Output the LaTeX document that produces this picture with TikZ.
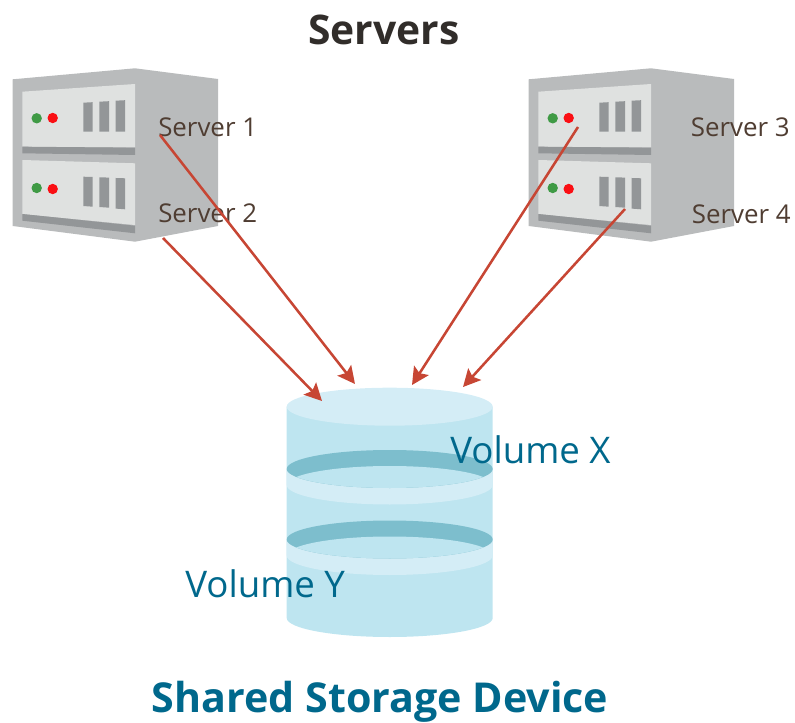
\documentclass[tikz,border=0pt]{standalone}
\usepackage{fontspec}
\setmainfont{Open Sans}
\usetikzlibrary{arrows.meta}
\definecolor{caseGrey}{HTML}{B9BBBC}
\definecolor{panelGrey}{HTML}{DFE1E0}
\definecolor{slotGrey}{HTML}{939698}
\definecolor{ledGreen}{HTML}{3F9A45}
\definecolor{ledRed}{HTML}{FA0F14}
\definecolor{diskBody}{HTML}{BEE5F0}
\definecolor{diskLight}{HTML}{D4EDF6}
\definecolor{diskDark}{HTML}{7DBECD}
\definecolor{linkRed}{HTML}{C74634}
\definecolor{volBlue}{HTML}{00688C}
\definecolor{srvBrown}{HTML}{4F3D32}
\definecolor{titleDark}{HTML}{312D2A}
\tikzset{
  srvlabel/.style={text=srvBrown,font=\fontsize{19.4}{23}\selectfont,inner sep=0pt},
  vollabel/.style={text=volBlue,font=\fontsize{27.5}{34}\selectfont,inner sep=0pt},
  link/.style={linkRed,line width=1.9pt,-{Stealth[length=13pt,width=13pt,inset=2.5pt]}}
}
\begin{document}
\begin{tikzpicture}[x=0.75pt,y=-0.75pt]
  \useasboundingbox (0,0) rectangle (795,723);

  % the two server boxes
  \foreach \xs in {0,516} {
    \begin{scope}[xshift=\xs*0.75pt]
      \fill[caseGrey] (12.7,79.3) -- (135,68.3) -- (218,79) -- (218,226) -- (135,241.7) -- (12.7,226) -- cycle;
      \fill[panelGrey] (22.3,91.7) -- (135,84) -- (135,147.3) -- (22.3,146.7) -- cycle;
      \fill[slotGrey] (22.3,146.7) -- (135,147.7) -- (135,155) -- (22.3,153.3) -- cycle;
      \fill[panelGrey] (22.3,160) -- (135,163.3) -- (135,225) -- (22.3,214) -- cycle;
      \fill[slotGrey] (22.3,214) -- (135,225.7) -- (135,233.3) -- (22.3,220.7) -- cycle;
      \fill[ledGreen] (36.7,118.3) circle (5.2);
      \fill[ledRed] (52.7,118) circle (5.2);
      \fill[ledGreen] (36.7,188) circle (5.2);
      \fill[ledRed] (52.7,189) circle (5.2);
      \fill[slotGrey] (83.3,102.7) -- (92.7,102.2) -- (92.7,131.7) -- (83.3,131.7) -- cycle;
      \fill[slotGrey] (99.3,101.7) -- (109,101.2) -- (109,131.7) -- (99.3,131.7) -- cycle;
      \fill[slotGrey] (115.7,100.7) -- (125,100.2) -- (125,131.7) -- (115.7,131.7) -- cycle;
      \fill[slotGrey] (83.3,176.7) -- (92.7,177) -- (92.7,206.7) -- (83.3,206) -- cycle;
      \fill[slotGrey] (99.3,177.3) -- (109,177.6) -- (109,207.7) -- (99.3,207) -- cycle;
      \fill[slotGrey] (115.7,178) -- (125,178.3) -- (125,209.3) -- (115.7,208.6) -- cycle;
    \end{scope}
  }

  % storage cylinder
  \fill[diskBody] (286.7,406.7) -- (286.7,618) arc[start angle=180,end angle=0,x radius=103,y radius=19] -- (492.7,406.7) -- cycle;
  \foreach \yb in {469,539.5} {
    \fill[diskLight] (286.7,\yb) -- (286.7,\yb+16) arc[start angle=180,end angle=0,x radius=103,y radius=19.5] -- (492.7,\yb) -- cycle;
    \fill[diskDark] (389.7,\yb) ellipse (103 and 19);
    \begin{scope}
      \clip (389.7,\yb) ellipse (103 and 19);
      \fill[diskBody] (389.7,\yb+16) ellipse (103 and 19);
    \end{scope}
  }
  \fill[diskLight] (389.7,406.7) ellipse (103 and 19);

  % titles and labels
  \node[text=titleDark,font=\fontsize{30.6}{36}\bfseries\selectfont,inner sep=0pt] (title) at (384,30) {Servers};
  \node[srvlabel,anchor=base west] (server1) at (158,137) {Server 1};
  \node[srvlabel,anchor=base west] (server2) at (158,223) {Server 2};
  \node[srvlabel,anchor=base east] (server3) at (790,137) {Server 3};
  \node[srvlabel,anchor=base east] (server4) at (791,224) {Server 4};
  \node[vollabel,anchor=base west] (volx) at (450,463) {Volume X};
  \node[vollabel,anchor=base west] (voly) at (185,597) {Volume Y};
  \node[text=volBlue,font=\fontsize{30.9}{38}\bfseries\selectfont,inner sep=0pt] (device) at (380,702) {Shared Storage Device};

  % links to the storage
  \coordinate (out1) at (160,135);
  \coordinate (out2) at (163,238);
  \coordinate (out3) at (578,127);
  \coordinate (out4) at (625,209);
  \coordinate (in1) at (355,384);
  \coordinate (in2) at (322,401);
  \coordinate (in3) at (412,385);
  \coordinate (in4) at (463,387);
  \draw[link] (out1) -- (in1);
  \draw[link] (out2) -- (in2);
  \draw[link] (out3) -- (in3);
  \draw[link] (out4) -- (in4);
\end{tikzpicture}
\end{document}
